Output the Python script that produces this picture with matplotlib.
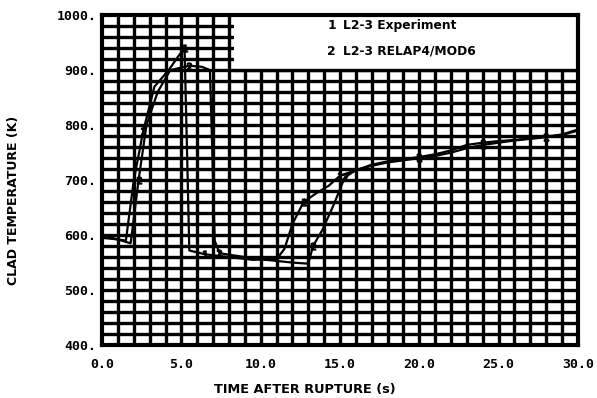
import matplotlib.pyplot as plt
from matplotlib.patches import Rectangle
import numpy as np

# ~~~~~ data ~~~~~
t_exp = [0.0, 1.0, 1.5, 2.0, 2.6, 3.3, 4.2, 4.8, 5.2, 5.35, 5.5, 6.5, 8.0, 9.5, 11.0,
         11.5, 12.0, 12.7, 13.5, 14.3, 15.0, 16.0, 17.0, 18.0, 19.0, 20.0, 21.0,
         22.0, 23.0, 24.0, 25.0, 26.0, 27.0, 28.0, 29.0, 30.0]
T_exp = [595, 592, 590, 700, 790, 870, 900, 925, 940, 760, 572, 565, 560, 555, 556,
         575, 620, 660, 676, 690, 708, 718, 726, 732, 736, 740, 744,
         750, 758, 764, 768, 772, 775, 778, 782, 790]

t_calc = [0.0, 1.0, 1.8, 2.3, 2.8, 3.5, 4.3, 5.5, 6.3, 6.8, 6.95, 7.1, 7.4, 9.0, 10.0,
          11.0, 12.0, 13.0, 13.3, 13.9, 14.6, 15.3, 16.0, 17.0, 18.0, 19.0, 20.0,
          21.0, 22.0, 23.0, 24.0, 25.0, 26.0, 27.0, 28.0, 29.0, 30.0]
T_calc = [600, 592, 585, 700, 800, 860, 900, 908, 906, 900, 750, 590, 567, 560, 556,
          553, 550, 548, 580, 610, 655, 705, 718, 728, 734, 738, 742,
          747, 754, 764, 768, 771, 773, 776, 779, 783, 792]

x_ticks = [0, 5, 10, 15, 20, 25, 30]
x_labels = ["0.0", "5.0", "10.0", "15.0", "20.0", "25.0", "30.0"]
y_ticks = [400, 500, 600, 700, 800, 900, 1000]
y_labels = ["400.", "500.", "600.", "700.", "800.", "900.", "1000."]
legend_lines = ["L2-3 Experiment", "L2-3 RELAP4/MOD6"]

fig = plt.figure(figsize=(5.97, 3.98), dpi=100)
ax = fig.add_axes([0.171, 0.133, 0.797, 0.829])
ax.set_xlim(0, 30)
ax.set_ylim(400, 1000)

# heavy graph-paper grid, every 1 s and every 20 K
ax.vlines(np.arange(1, 30), 400, 1000, color="black", lw=2.4, zorder=1)
ax.hlines(np.arange(420, 1000, 20), 0, 30, color="black", lw=2.4, zorder=1)

# white legend panel covering the grid
ax.add_patch(Rectangle((8.3, 901), 21.7, 99, facecolor="white", edgecolor="none", zorder=2))
ax.plot([8.3, 30], [900, 900], color="black", lw=2.4, zorder=2)

ax.plot(t_exp, T_exp, color="black", lw=1.6, zorder=3,
        marker="$1$", markersize=5, markevery=[4, 8, 11, 17, 20, 25, 29, 33])
ax.plot(t_calc, T_calc, color="black", lw=1.6, zorder=3,
        marker="$2$", markersize=5, markevery=[3, 7, 12, 18, 21, 26, 30, 34])

fs = 8.8
ax.text(14.2, 982, "1", fontsize=fs, fontweight="bold", va="center", zorder=4)
ax.text(15.2, 982, legend_lines[0], fontsize=fs, fontweight="bold", va="center", zorder=4)
ax.text(14.2, 934, "2", fontsize=fs, fontweight="bold", va="center", zorder=4)
ax.text(15.2, 934, legend_lines[1], fontsize=fs, fontweight="bold", va="center", zorder=4)

ax.set_xticks(x_ticks)
ax.set_xticklabels(x_labels, fontsize=9.5, fontweight="bold", family="DejaVu Sans Mono")
ax.set_yticks(y_ticks)
ax.set_yticklabels(y_labels, fontsize=9.5, fontweight="bold", family="DejaVu Sans Mono")
ax.tick_params(axis="x", length=0, pad=9)
ax.tick_params(axis="y", length=0, pad=4)
for s in ax.spines.values():
    s.set_linewidth(3)
    s.set_zorder(5)

ax.set_xlabel("TIME AFTER RUPTURE (s)", fontsize=9.3, fontweight="bold")
ax.xaxis.set_label_coords(0.426, -0.115)
ax.set_ylabel("CLAD TEMPERATURE (K)", fontsize=9.0, fontweight="bold")
ax.yaxis.set_label_coords(-0.172, 0.44)

fig.savefig("out.png", dpi=100)
